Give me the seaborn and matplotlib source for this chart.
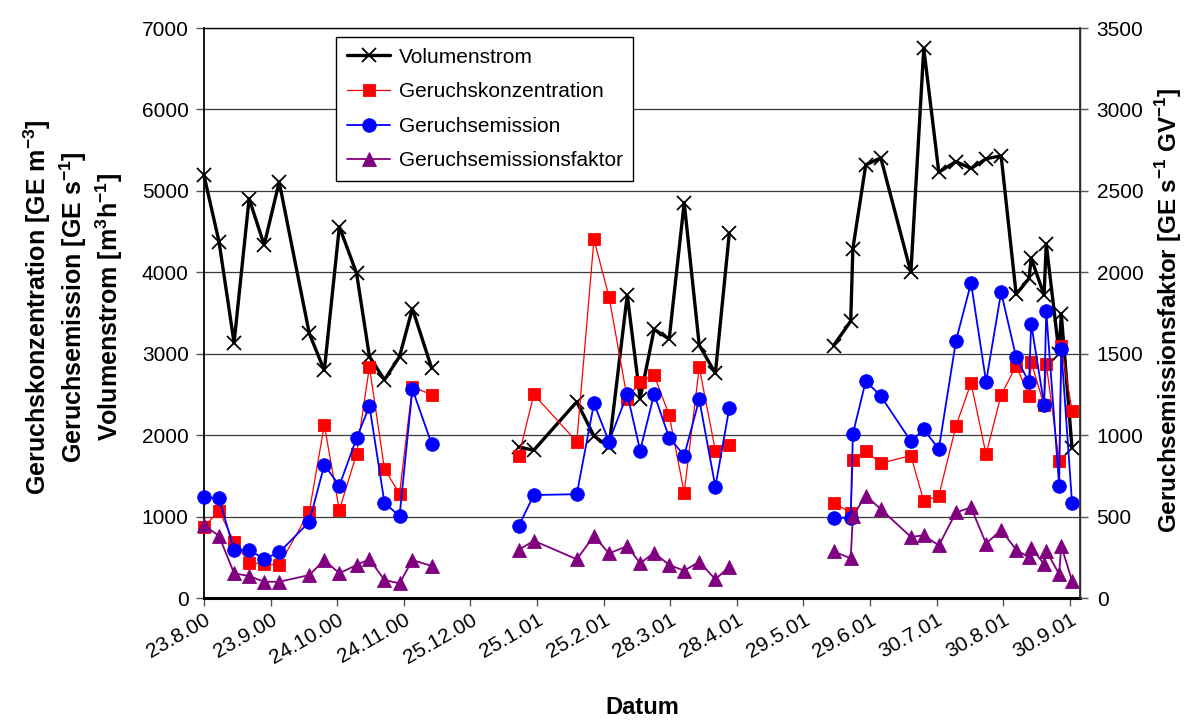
import numpy as np
import pandas as pd
import matplotlib
matplotlib.use("Agg")
import matplotlib.pyplot as plt
import seaborn as sns
from matplotlib.lines import Line2D

# Measurement days, counted from 23.8.2000; three campaigns
days = [0, 7, 14, 21, 28, 35, 49, 56, 63, 71, 77, 84, 91, 97, 106,
        146.5, 153.5, 173.5, 181.5, 188.5, 197, 203, 209.5, 216.5, 223.5, 230.5, 238, 244.5,
        293, 301, 302, 308, 315, 329, 335, 342, 350, 357, 364, 371, 378, 384, 385, 391, 392, 398, 399, 404]
campaign = [1] * 15 + [2] * 13 + [3] * 20

# Volumenstrom [m3/h]
volumenstrom = [5190, 4375, 3135, 4905, 4335, 5110, 3250, 2795, 4560, 3990, 2965, 2680, 2965, 3555, 2820,
                1855, 1815, 2410, 1990, 1855, 3720, 2450, 3300, 3180, 4855, 3105, 2760, 4480,
                3100, 3400, 4290, 5320, 5405, 4000, 6750, 5230, 5360, 5275, 5395, 5430, 3730, 3925, 4175,
                3720, 4350, 3000, 3490, 1840]

# Geruchskonzentration [GE/m3]
konzentration = [875, 1070, 690, 435, 420, 405, 1060, 2125, 1080, 1770, 2840, 1585, 1280, 2595, 2495,
                 1745, 2500, 1920, 4405, 3700, 2450, 2655, 2740, 2245, 1295, 2835, 1810, 1885,
                 1170, 1050, 1700, 1800, 1655, 1750, 1190, 1255, 2115, 2640, 1765, 2495, 2850, 2485, 2900,
                 2365, 2875, 1680, 3100, 2300]

# Geruchsemission [GE/s]
emission = [1235, 1225, 590, 590, 480, 560, 935, 1635, 1380, 1960, 2360, 1170, 1005, 2565, 1890,
            885, 1265, 1275, 2390, 1920, 2505, 1810, 2505, 1970, 1750, 2440, 1365, 2335,
            985, 985, 2015, 2665, 2480, 1925, 2070, 1830, 3160, 3870, 2655, 3755, 2955, 2650, 3370,
            2375, 3525, 1380, 3060, 1170]

# Geruchsemissionsfaktor [GE/(s GV)], right axis
faktor = [448, 381, 152, 135, 100, 100, 141, 233, 152, 203, 238, 111, 90, 233, 197,
          295, 352, 238, 381, 274, 319, 213, 278, 203, 168, 223, 115, 192,
          286, 244, 504, 628, 546, 375, 385, 323, 526, 556, 334, 418, 297, 249, 310,
          208, 290, 147, 320, 106]

tick_days = [0, 31, 62, 93, 124, 155, 186, 217, 248, 279, 310, 341, 372, 403]
tick_labels = ["23.8.00", "23.9.00", "24.10.00", "24.11.00", "25.12.00", "25.1.01", "25.2.01",
               "28.3.01", "28.4.01", "29.5.01", "29.6.01", "30.7.01", "30.8.01", "30.9.01"]

series_names = ["Volumenstrom", "Geruchskonzentration", "Geruchsemission", "Geruchsemissionsfaktor"]

df = pd.DataFrame({
    "Tag": days,
    "Kampagne": campaign,
    "Volumenstrom": volumenstrom,
    "Geruchskonzentration": konzentration,
    "Geruchsemission": emission,
    "Geruchsemissionsfaktor": faktor,
})

sns.set_theme(style="white")
plt.rcParams["font.family"] = ["Liberation Sans", "DejaVu Sans"]
plt.rcParams["mathtext.fontset"] = "custom"
plt.rcParams["mathtext.rm"] = "Liberation Sans:bold"
plt.rcParams["mathtext.bf"] = "Liberation Sans:bold"
plt.rcParams["text.color"] = "black"
plt.rcParams["axes.labelcolor"] = "black"

fig, ax = plt.subplots(figsize=(11.86, 7.22), dpi=100)
fig.subplots_adjust(left=0.172, right=0.9106, bottom=0.1717, top=0.9612)
ax2 = ax.twinx()

styles = {
    "Volumenstrom": dict(color="black", lw=2.4, marker="x", markersize=9.5, markeredgewidth=1.3,
                         markeredgecolor="black", markerfacecolor="black"),
    "Geruchskonzentration": dict(color="#ff0000", lw=0.9, marker="s", markersize=9.2, markeredgewidth=0.6,
                                 markeredgecolor="#ff0000", markerfacecolor="#ff0000"),
    "Geruchsemission": dict(color="#0000ff", lw=1.3, marker="o", markersize=9.8, markeredgewidth=0.6,
                            markeredgecolor="#0000ff", markerfacecolor="#0000ff"),
    "Geruchsemissionsfaktor": dict(color="#800080", lw=1.3, marker="^", markersize=9.6, markeredgewidth=0.6,
                                   markeredgecolor="#800080", markerfacecolor="#800080"),
}

for name in series_names[:3]:
    sns.lineplot(data=df, x="Tag", y=name, units="Kampagne", estimator=None, ax=ax,
                 legend=False, clip_on=False, zorder=3, **styles[name])
sns.lineplot(data=df, x="Tag", y="Geruchsemissionsfaktor", units="Kampagne", estimator=None, ax=ax2,
             legend=False, clip_on=False, zorder=3, **styles["Geruchsemissionsfaktor"])

# Axes ranges and ticks
ax.set_xlim(0, 407.7)
ax.set_ylim(0, 7000)
ax2.set_ylim(0, 3500)
ax.set_yticks(np.arange(0, 7001, 1000))
ax2.set_yticks(np.arange(0, 3501, 500))
ax.set_xticks(tick_days)
ax.set_xticklabels(tick_labels, rotation=30, ha="right", va="top", rotation_mode="anchor")

ax.yaxis.grid(True, color="#3a3a3a", lw=0.9)
ax.xaxis.grid(False)
ax.set_axisbelow(True)

ax.tick_params(axis="both", which="major", direction="out", length=6, width=1,
               labelsize=15, color="#555555", labelcolor="black", bottom=True, left=True, pad=5)
ax.tick_params(axis="x", pad=3)
ax2.tick_params(axis="y", direction="out", length=6, width=1, labelsize=15,
                color="#555555", labelcolor="black", right=True, pad=6)

for sp in ax.spines.values():
    sp.set_color("black")
    sp.set_linewidth(1.0)
ax.spines["bottom"].set_linewidth(2.2)
ax.spines["left"].set_linewidth(1.3)
for sp in ax2.spines.values():
    sp.set_visible(False)
ax2.spines["right"].set_visible(True)
ax2.spines["right"].set_color("#333333")
ax2.spines["right"].set_linewidth(1.3)

# Axis titles
ax.set_xlabel("Datum", fontsize=17, fontweight="bold")
ax.xaxis.set_label_coords(0.5, -0.172)
ax.set_ylabel("Geruchskonzentration [GE m$^{\\mathregular{-3}}$]\n"
              "Geruchsemission [GE s$^{\\mathregular{-1}}$]\n"
              "Volumenstrom [m$^{\\mathregular{3}}$h$^{\\mathregular{-1}}$]",
              fontsize=18, fontweight="bold", linespacing=1.2)
ax.yaxis.set_label_coords(-0.09, 0.51)
ax2.set_ylabel("Geruchsemissionsfaktor [GE s$^{\\mathregular{-1}}$ GV$^{\\mathregular{-1}}$]",
               fontsize=17.5, fontweight="bold")
ax2.yaxis.set_label_coords(1.084, 0.505)

# Legend
handles = []
for name in series_names:
    st = styles[name]
    handles.append(Line2D([], [], **st))
leg = ax2.legend(handles, series_names, loc="upper left", bbox_to_anchor=(0.151, 0.984),
                 frameon=True, fancybox=False, edgecolor="black", framealpha=1, fontsize=15,
                 handlelength=2.1, handletextpad=0.4, labelspacing=0.75, borderpad=0.5,
                 borderaxespad=0)
leg.get_frame().set_linewidth(1.0)

fig.savefig("out.png", dpi=100)
